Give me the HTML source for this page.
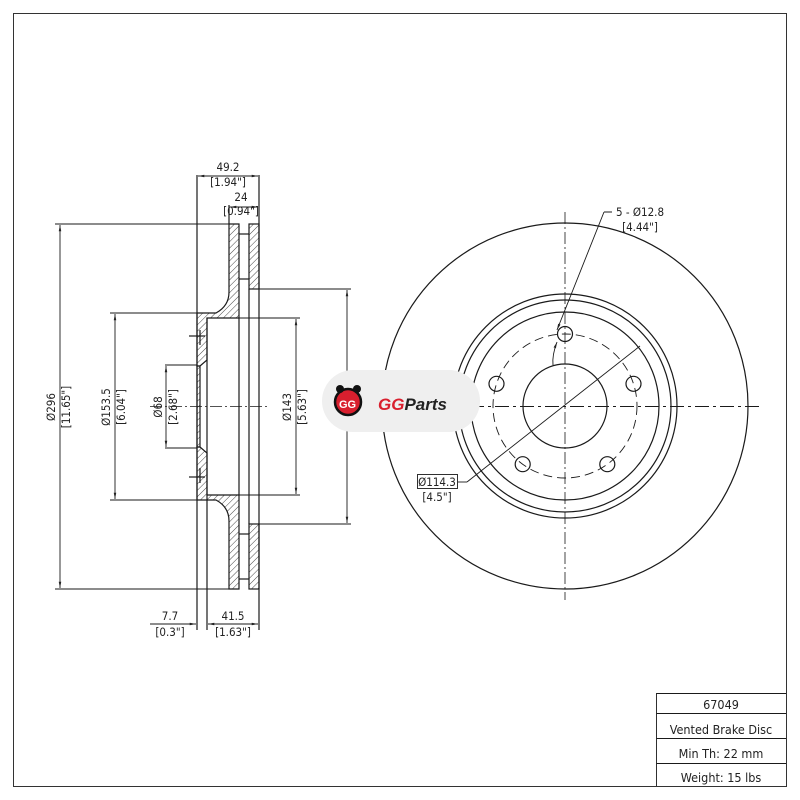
<!DOCTYPE html>
<html><head><meta charset="utf-8"><style>
html,body{margin:0;padding:0;background:#fff;}
svg{display:block;font-family:"DejaVu Sans Condensed","Liberation Sans",sans-serif;}
</style></head><body>
<svg width="800" height="800" viewBox="0 0 800 800" xmlns="http://www.w3.org/2000/svg">
<defs>
<pattern id="h" patternUnits="userSpaceOnUse" width="4.5" height="4.5" patternTransform="rotate(45)">
<line x1="0" y1="0" x2="0" y2="4.5" stroke="#333" stroke-width="0.9"/>
</pattern>
<marker id="a" viewBox="0 0 10 10" refX="10" refY="5" markerWidth="7" markerHeight="7" orient="auto-start-reverse"><path d="M0,3 L10,5 L0,7 Z" fill="#222"/></marker>
</defs>
<rect x="13.5" y="13.5" width="773" height="773" fill="none" stroke="#333" stroke-width="1"/>

<g stroke="#1a1a1a" stroke-width="1.2" fill="none">
<path d="M229,224 H239 V318 H207 V360 L200,366 H197 V313 H216 Q229,306 229,292 Z" fill="url(#h)"/>
<path d="M229,589 H239 V495 H207 V453 L200,447 H197 V500 H216 Q229,507 229,521 Z" fill="url(#h)"/>
<rect x="197" y="366" width="3" height="81" fill="url(#h)"/>
<rect x="249" y="224" width="10" height="65" fill="url(#h)"/>
<rect x="249" y="524" width="10" height="65" fill="url(#h)"/>
<line x1="239" y1="234" x2="249" y2="234"/><line x1="239" y1="279" x2="249" y2="279"/>
<line x1="239" y1="534" x2="249" y2="534"/><line x1="239" y1="579" x2="249" y2="579"/>
<line x1="197" y1="313" x2="197" y2="630"/>
<line x1="207" y1="318" x2="207" y2="630"/>
<line x1="239" y1="318" x2="239" y2="495"/>
<line x1="249" y1="289" x2="249" y2="524"/>
<line x1="259" y1="175" x2="259" y2="630"/>
<line x1="197" y1="175" x2="197" y2="313"/>
<line x1="229" y1="205" x2="229" y2="224"/>
<line x1="189" y1="336" x2="205" y2="336"/><line x1="189" y1="477" x2="205" y2="477"/>
<line x1="200" y1="330" x2="200" y2="345" /><line x1="200" y1="468" x2="200" y2="483"/>
<line x1="150" y1="406.5" x2="270" y2="406.5" stroke-dasharray="12,3,2,3" stroke-width="0.8"/>
<g stroke-width="0.9">
<line x1="55" y1="224" x2="229" y2="224"/>
<line x1="55" y1="589" x2="229" y2="589"/>
<line x1="110" y1="313" x2="197" y2="313"/>
<line x1="110" y1="500" x2="197" y2="500"/>
<line x1="165" y1="365" x2="197" y2="365"/>
<line x1="165" y1="448" x2="197" y2="448"/>
<line x1="207" y1="318" x2="300" y2="318"/>
<line x1="207" y1="495" x2="300" y2="495"/>
<line x1="259" y1="289" x2="351" y2="289"/>
<line x1="259" y1="524" x2="351" y2="524"/>
</g>
<g stroke-width="0.9" marker-start="url(#a)" marker-end="url(#a)">
<line x1="60" y1="225" x2="60" y2="588"/>
<line x1="115" y1="314" x2="115" y2="499"/>
<line x1="166" y1="366" x2="166" y2="447"/>
<line x1="296" y1="319" x2="296" y2="494"/>
<line x1="347" y1="290" x2="347" y2="523"/>
<line x1="198" y1="176" x2="258" y2="176"/>
<line x1="230" y1="207" x2="258" y2="207"/>
<line x1="208" y1="624" x2="258" y2="624"/>
</g>
<line x1="150" y1="624" x2="196" y2="624" stroke-width="0.9" marker-end="url(#a)"/>

<circle cx="565" cy="406" r="183"/>
<circle cx="565" cy="406" r="112"/>
<circle cx="565" cy="406" r="106"/>
<circle cx="565" cy="406" r="94"/>
<circle cx="565" cy="406" r="42"/>
<circle cx="565" cy="406" r="72" stroke-dasharray="9,5" stroke-width="0.9"/>
<circle cx="565" cy="334" r="7.5"/>
<circle cx="496.5" cy="383.8" r="7.5"/>
<circle cx="633.5" cy="383.8" r="7.5"/>
<circle cx="522.7" cy="464.2" r="7.5"/>
<circle cx="607.3" cy="464.2" r="7.5"/>
<line x1="565" y1="212" x2="565" y2="600" stroke-dasharray="12,3,2,3" stroke-width="0.8"/>
<line x1="370" y1="406.5" x2="760" y2="406.5" stroke-dasharray="14,4,3,4" stroke-width="1"/>
<line x1="458" y1="482" x2="467" y2="482" stroke-width="0.9"/>
<line x1="467" y1="482" x2="640" y2="346" stroke-width="0.9"/>
<path d="M604,212 H612 M604,212 L557,330" stroke-width="0.9" marker-end="url(#a)"/>
<path d="M557,342 Q552,355 553,365" stroke-width="0.9" marker-start="url(#a)"/>
<rect x="417.5" y="474.5" width="40" height="14" stroke-width="0.9"/>

<path d="M656.5,786 V693.5 H786 M656.5,713.5 H786 M656.5,738.5 H786 M656.5,763.5 H786" stroke-width="0.9"/>
</g>

<rect x="322" y="370" width="158" height="62" rx="31" fill="#efefef"/>
<g>
<circle cx="348" cy="402" r="13" fill="#d91f2e" stroke="#111" stroke-width="2.5"/>
<circle cx="340" cy="389" r="4" fill="#111"/><circle cx="357" cy="389" r="4" fill="#111"/>
<text x="339" y="408" font-size="11" font-weight="bold" fill="#fff" font-family="Liberation Sans,sans-serif">GG</text>
</g>
<text x="378" y="410" font-size="17" font-weight="bold" font-style="italic" font-family="Liberation Sans,sans-serif"><tspan fill="#d91f2e">GG</tspan><tspan fill="#222">Parts</tspan></text>

<g fill="#222" font-size="11.5" text-anchor="middle">
<text x="228" y="171">49.2</text>
<text x="228" y="186">[1.94"]</text>
<text x="241" y="201">24</text>
<text x="241" y="215">[0.94"]</text>
<text x="170" y="620">7.7</text>
<text x="170" y="636">[0.3"]</text>
<text x="233" y="620">41.5</text>
<text x="233" y="636">[1.63"]</text>
<text transform="translate(55,407) rotate(-90)">Ø296</text>
<text transform="translate(70,407) rotate(-90)">[11.65"]</text>
<text transform="translate(110,407) rotate(-90)">Ø153.5</text>
<text transform="translate(125,407) rotate(-90)">[6.04"]</text>
<text transform="translate(162,407) rotate(-90)">Ø68</text>
<text transform="translate(177,407) rotate(-90)">[2.68"]</text>
<text transform="translate(291,407) rotate(-90)">Ø143</text>
<text transform="translate(306,407) rotate(-90)">[5.63"]</text>
<text x="437" y="486">Ø114.3</text>
<text x="437" y="501">[4.5"]</text>
<text x="640" y="216">5 - Ø12.8</text>
<text x="640" y="231">[4.44"]</text>
<text x="721" y="709" font-size="12.5">67049</text>
<text x="721" y="734" font-size="12.5">Vented Brake Disc</text>
<text x="721" y="758" font-size="12.5">Min Th: 22 mm</text>
<text x="721" y="782" font-size="12.5">Weight: 15 lbs</text>
</g>
</svg>
</body></html>
